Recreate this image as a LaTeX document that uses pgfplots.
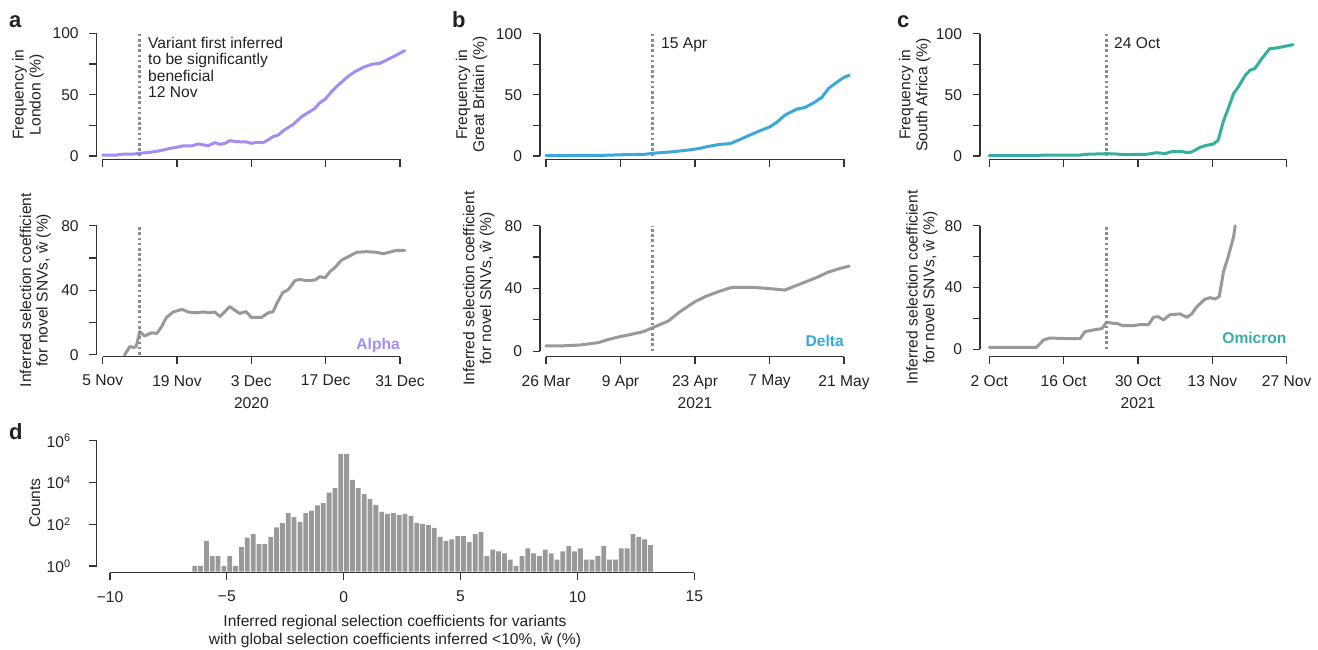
\documentclass[border=0pt]{standalone}
\usepackage{fontspec}
\setmainfont{Liberation Sans}
\usepackage{pgfplots}
\pgfplotsset{compat=1.18}

\definecolor{alphacol}{HTML}{A58CF0}
\definecolor{deltacol}{HTML}{3AA8D8}
\definecolor{omicroncol}{HTML}{35B0A0}
\definecolor{selcol}{HTML}{999999}
\definecolor{markcol}{HTML}{8C8C8C}
\definecolor{axiscol}{HTML}{333333}
\definecolor{txtcol}{HTML}{222222}
\definecolor{barcol}{HTML}{999999}

\newcommand\tfont{\fontsize{15.6}{17}\selectfont}
\newcommand\pfont{\fontsize{22}{24}\selectfont\bfseries}

\tikzset{axisline/.style={axiscol, line width=1.2pt}}

\pgfplotsset{
  panel/.style={
    scale only axis, anchor=south west, clip=false,
    axis lines=left, axis line style={draw=none},
    tick align=outside, major tick length=7.5pt,
    tick style={axiscol, line width=1.2pt},
    tick label style={font=\tfont, text=txtcol},
    xticklabel style={yshift=-7.5pt},
    yticklabel style={xshift=-7pt},
  },
  timeaxis/.style={panel, width=#1, xmin=0, xmax=56, xtick={0,14,28,42,56}},
  freqaxis/.style={ymin=0, ymax=100, ytick={0,25,50,75,100},
    yticklabels={0,,50,,100}, xticklabels={,,,,}},
  selaxis/.style={ymin=0, ymax=80, ytick={0,20,40,60,80},
    yticklabels={0,,40,,80}},
  trace/.style={line width=3pt, line join=round, line cap=round},
  marker/.style={markcol, line width=3pt, dash pattern=on 2.6pt off 2.6pt},
}

\begin{document}
\begin{tikzpicture}
\useasboundingbox (0pt,0pt) rectangle (1318pt,650pt);

% ---------------- a: Alpha, London ----------------
\begin{axis}[timeaxis=297.3pt, freqaxis, height=122.7pt, at={(102.7pt,494pt)},
  axis x line shift=3.3pt, axis y line shift=6pt]
\addplot[trace, alphacol] coordinates {
(0,0.8)(2.6,0.8)(3.9,1.5)(5.8,1.6)(7,2.2)(8.9,3.0)(10.8,4.3)(12.7,6.2)(13.9,7.1)
(15.1,8.2)(16.7,8.2)(18,9.8)(19.9,8.4)(21.1,10.9)(22.1,9.5)(23,10.3)(24,12.5)
(25.2,11.7)(27.1,11.4)(28,10.3)(29,11.1)(30.2,10.9)(30.9,12.5)(32.1,15.8)(33.1,17.1)
(34,20.6)(35.9,25.8)(37.5,32.1)(39,36.1)(40,38.9)(40.9,43.5)(41.9,46.2)(43.1,52.4)
(44.4,57.9)(46,64.1)(47.5,68.7)(49.1,72.3)(50.7,74.7)(52.2,75.5)(53.5,78.2)(55,81.5)
(56.9,85.9)};
\addplot[marker] coordinates {(7,0)(7,100)};
\draw[axisline] ([xshift=-6pt]axis cs:0,0) -- ([xshift=-6pt]axis cs:0,100);
\draw[axisline] ([yshift=-3.3pt]axis cs:0,0) -- ([yshift=-3.3pt]axis cs:56,0);
\end{axis}

\begin{axis}[timeaxis=297.3pt, selaxis, height=129pt, at={(102.7pt,295.3pt)},
  axis x line shift=2pt, axis y line shift=6pt,
  xticklabels={5 Nov,19 Nov,3 Dec,17 Dec,31 Dec}]
\addplot[trace, selcol] coordinates {
(4.1,-0.3)(5.1,5.0)(5.8,4.5)(6.3,5.0)(7.0,14.3)(7.9,11.6)(9.2,13.6)(10.2,13.2)
(11.1,17.4)(12.0,23.1)(13.3,26.5)(14.9,28.1)(16.1,26.5)(17.7,26)(18.9,26.5)(20.2,26)
(21.1,26.5)(22.1,23.6)(23.9,29.8)(25.8,25.6)(27,26.7)(28,23.1)(29.9,23.1)(31.2,26)
(32.1,26.7)(32.8,31.8)(33.9,38.4)(35,40.5)(36.2,45.9)(37.1,46.7)(38.4,45.9)(40,46.3)
(40.9,48.4)(41.9,47.7)(42.8,51.5)(43.8,54.2)(45,58.7)(46.3,60.8)(47.8,63.5)(49.7,63.9)
(51.6,63.5)(52.8,62.6)(53.7,63.3)(55.3,64.7)(56.9,64.7)};
\addplot[marker] coordinates {(7,0)(7,80)};
\draw[axisline] ([xshift=-6pt]axis cs:0,0) -- ([xshift=-6pt]axis cs:0,80);
\draw[axisline] ([yshift=-2pt]axis cs:0,0) -- ([yshift=-2pt]axis cs:56,0);
\end{axis}

% ---------------- b: Delta, Great Britain ----------------
\begin{axis}[timeaxis=298pt, freqaxis, height=122.3pt, at={(546pt,494pt)},
  axis x line shift=3.3pt, axis y line shift=6pt]
\addplot[trace, deltacol] coordinates {
(0,0.3)(10.2,0.5)(15.2,1.1)(18.6,1.4)(20,2.2)(23.9,3.5)(26.8,4.9)(28.9,6.2)(30.2,7.6)
(32.7,9.5)(34.6,10.1)(36.5,13.6)(38.3,17.1)(40.2,20.6)(42.1,23.9)(43.4,27.7)(44.9,33.4)
(47.1,38.3)(48.7,39.7)(50.3,43.5)(51.8,47.8)(53.1,55.2)(54.3,59.2)(55.9,64.1)(57,66)};
\addplot[marker] coordinates {(20,0)(20,100)};
\draw[axisline] ([xshift=-6pt]axis cs:0,0) -- ([xshift=-6pt]axis cs:0,100);
\draw[axisline] ([yshift=-3.3pt]axis cs:0,0) -- ([yshift=-3.3pt]axis cs:56,0);
\end{axis}

\begin{axis}[timeaxis=298pt, selaxis, height=125.6pt, at={(546pt,298.7pt)},
  axis x line shift=5.4pt, axis y line shift=6pt,
  xticklabels={26 Mar,9 Apr,23 Apr,7 May,21 May}]
\addplot[trace, selcol] coordinates {
(0,3.4)(2.6,3.4)(6.4,4.0)(9.8,5.5)(11.4,7.2)(13.3,8.9)(15.2,10.2)(18.3,12.5)(20.2,15.3)
(23,19.3)(25.2,25.3)(28,31.6)(29.9,34.8)(32.4,38)(34.9,40.7)(39,40.7)(42.1,39.9)
(44.9,39)(47.8,42.9)(50.9,47.1)(53.1,50.5)(55.3,52.8)(57,54.3)};
\addplot[marker] coordinates {(20,0)(20,80)};
\draw[axisline] ([xshift=-6pt]axis cs:0,0) -- ([xshift=-6pt]axis cs:0,80);
\draw[axisline] ([yshift=-5.4pt]axis cs:0,0) -- ([yshift=-5.4pt]axis cs:56,0);
\end{axis}

% ---------------- c: Omicron, South Africa ----------------
\begin{axis}[timeaxis=297.4pt, freqaxis, height=122.3pt, at={(989.3pt,494pt)},
  axis x line shift=3.3pt, axis y line shift=9.3pt]
\addplot[trace, omicroncol] coordinates {
(0,0.3)(8.9,0.3)(10.2,0.8)(17.1,0.8)(18.3,1.4)(22.1,1.9)(24,1.6)(25.2,1.1)(29.6,1.4)
(31.5,2.7)(33.1,1.9)(34.3,3.5)(36.2,3.8)(37.2,2.7)(38.1,3.3)(39.7,7.1)(40.9,8.7)
(42.2,9.8)(43.1,13)(44.1,28.8)(45,38.9)(46,51.1)(46.9,56.5)(48.2,66)(49.1,70.1)
(50,71.5)(51.3,79.6)(52.8,87.8)(54.1,88.3)(55.7,89.7)(57.2,91)};
\addplot[marker] coordinates {(22,0)(22,100)};
\draw[axisline] ([xshift=-9.3pt]axis cs:0,0) -- ([xshift=-9.3pt]axis cs:0,100);
\draw[axisline] ([yshift=-3.3pt]axis cs:0,0) -- ([yshift=-3.3pt]axis cs:56,0);
\end{axis}

\begin{axis}[timeaxis=297.4pt, selaxis, height=123.6pt, at={(989.3pt,300.7pt)},
  axis x line shift=7.4pt, axis y line shift=9.3pt,
  xticklabels={2 Oct,16 Oct,30 Oct,13 Nov,27 Nov}]
\addplot[trace, selcol] coordinates {
(0,1.3)(8.9,1.3)(10.2,6)(11.4,7.3)(14.6,6.9)(17.1,6.9)(18,11.4)(19.6,12.5)(21.2,13.4)
(22.1,17.5)(23.4,16.8)(24,16.8)(25.1,15.3)(27.1,15.3)(28.4,16)(30,16)(30.9,20.7)
(31.8,21.1)(32.8,19)(34,22.4)(35.9,22.9)(37.2,20.7)(38.1,22.9)(39.1,27.6)(40.6,32.4)
(41.6,33.4)(42.5,32.6)(43.3,34.1)(44.1,50.3)(45,60)(46,72.9)(46.3,80)};
\addplot[marker] coordinates {(22,0)(22,80)};
\draw[axisline] ([xshift=-9.3pt]axis cs:0,0) -- ([xshift=-9.3pt]axis cs:0,80);
\draw[axisline] ([yshift=-7.4pt]axis cs:0,0) -- ([yshift=-7.4pt]axis cs:56,0);
\end{axis}

% ---------------- d: histogram of regional coefficients ----------------
\begin{axis}[panel, width=584.3pt, height=131pt, at={(110pt,78.3pt)},
  xmin=-10, xmax=15, xtick={-10,-5,0,5,10,15},
  xticklabels={−10,−5,0,5,10,15},
  ymode=log, ymin=0.533, ymax=1e6, log origin=infty,
  ytick={1,1e2,1e4,1e6}, yminorticks=false,
  yticklabels={10\textsuperscript{0},10\textsuperscript{2},10\textsuperscript{4},10\textsuperscript{6}},
  yticklabel style={xshift=-8pt},
  axis x line shift=1pt, axis y line shift=13.3pt]
\addplot[ybar, bar width=0.205, bar shift=0pt, fill=barcol, draw=none] table {
x n
-6.375 1
-6.125 1
-5.875 16
-5.625 3
-5.375 3
-5.125 1
-4.875 3
-4.625 1
-4.375 8
-4.125 23
-3.875 34
-3.625 11
-3.375 11
-3.125 25
-2.875 71
-2.625 112
-2.375 336
-2.125 216
-1.875 129
-1.625 340
-1.375 450
-1.125 810
-0.875 1020
-0.625 3300
-0.375 5400
-0.125 234000
0.125 234000
0.375 13200
0.625 5400
0.875 2800
1.125 1580
1.375 850
1.625 390
1.875 310
2.125 340
2.375 280
2.625 310
2.875 250
3.125 115
3.375 100
3.625 93
3.875 66
4.125 25
4.375 16
4.625 19
4.875 27
5.125 27
5.375 14
5.625 34
5.875 43
6.125 3
6.375 6
6.625 5
6.875 4
7.125 2
7.375 1
7.625 3
7.875 7
8.125 4
8.375 3
8.625 6
8.875 4
9.125 2
9.375 5
9.625 9
9.875 5
10.125 7
10.375 2
10.625 2
10.875 3
11.125 9
11.375 2
11.625 2
11.875 7
12.125 7
12.375 34
12.625 25
12.875 19
13.125 10
};
\draw[axisline] ([xshift=-13.3pt]axis cs:-10,1) -- ([xshift=-13.3pt]axis cs:-10,1e6);
\draw[axisline] ([yshift=-1pt]axis cs:-10,0.533) -- ([yshift=-1pt]axis cs:15,0.533);
\end{axis}

% ---------------- labels ----------------
\begin{scope}[every node/.style={inner sep=0pt, text=txtcol, font=\tfont}]
\node[anchor=base west, font=\pfont] at (9pt,622pt) {a};
\node[anchor=base west, font=\pfont] at (452pt,622pt) {b};
\node[anchor=base west, font=\pfont] at (897pt,622pt) {c};
\node[anchor=base west, font=\pfont] at (9pt,210pt) {d};

\node[anchor=base west] at (148pt,601.7pt) {Variant first inferred};
\node[anchor=base west] at (148pt,585pt) {to be significantly};
\node[anchor=base west] at (148pt,568.3pt) {beneficial};
\node[anchor=base west] at (148pt,552.7pt) {12 Nov};
\node[anchor=base west] at (661pt,601.7pt) {15 Apr};
\node[anchor=base west] at (1114pt,601.7pt) {24 Oct};

\node[anchor=base east, font=\tfont\bfseries, text=alphacol] at (400pt,300.7pt) {Alpha};
\node[anchor=base east, font=\tfont\bfseries, text=deltacol] at (844pt,303.3pt) {Delta};
\node[anchor=base east, font=\tfont\bfseries, text=omicroncol] at (1286.7pt,306pt) {Omicron};

\node[anchor=base] at (251.4pt,241pt) {2020};
\node[anchor=base] at (695pt,241pt) {2021};
\node[anchor=base] at (1138pt,241pt) {2021};

% y labels, upper row
\node[anchor=base, rotate=90] at (23.7pt,555.2pt) {Frequency in};
\node[anchor=base, rotate=90] at (40.7pt,555.2pt) {London (\%)};
\node[anchor=base, rotate=90] at (467pt,555.2pt) {Frequency in};
\node[anchor=base, rotate=90] at (484pt,555.2pt) {Great Britain (\%)};
\node[anchor=base, rotate=90] at (910.3pt,555.2pt) {Frequency in};
\node[anchor=base, rotate=90] at (927.3pt,555.2pt) {South Africa (\%)};

% y labels, lower row
\node[anchor=base, rotate=90] at (31pt,359.8pt) {Inferred selection coefficient};
\node[anchor=base, rotate=90] at (47.7pt,359.8pt) {for novel SNVs, ŵ (\%)};
\node[anchor=base, rotate=90] at (474.3pt,361.5pt) {Inferred selection coefficient};
\node[anchor=base, rotate=90] at (491pt,361.5pt) {for novel SNVs, ŵ (\%)};
\node[anchor=base, rotate=90] at (917.6pt,362.5pt) {Inferred selection coefficient};
\node[anchor=base, rotate=90] at (934.3pt,362.5pt) {for novel SNVs, ŵ (\%)};

\node[anchor=base, rotate=90] at (40pt,147pt) {Counts};
\node[anchor=base] at (395pt,23pt) {Inferred regional selection coefficients for variants};
\node[anchor=base] at (395pt,5pt) {with global selection coefficients inferred <10\%, ŵ (\%)};
\end{scope}
\end{tikzpicture}
\end{document}
